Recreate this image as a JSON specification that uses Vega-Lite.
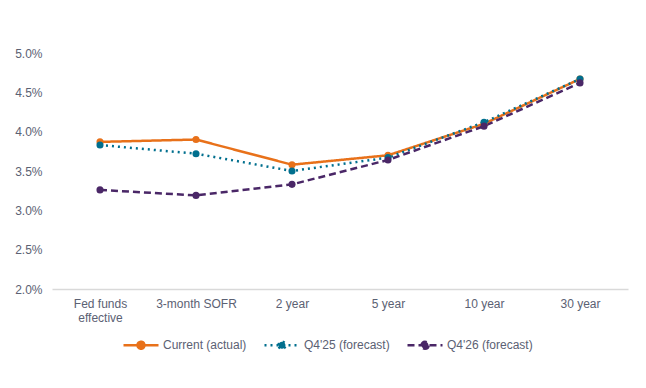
{
  "$schema": "https://vega.github.io/schema/vega-lite/v6.json",
  "width": 576,
  "height": 236,
  "autosize": {"type": "none"},
  "padding": {"left": 52, "top": 53, "right": 18, "bottom": 99},
  "background": "white",
  "config": {
    "view": {"stroke": null},
    "font": "Liberation Sans"
  },
  "data": {
    "values": [
      {"tenor": "Fed funds effective", "series": "Current (actual)", "rate": 3.87},
      {"tenor": "3-month SOFR", "series": "Current (actual)", "rate": 3.90},
      {"tenor": "2 year", "series": "Current (actual)", "rate": 3.58},
      {"tenor": "5 year", "series": "Current (actual)", "rate": 3.70},
      {"tenor": "10 year", "series": "Current (actual)", "rate": 4.10},
      {"tenor": "30 year", "series": "Current (actual)", "rate": 4.67},
      {"tenor": "Fed funds effective", "series": "Q4'25 (forecast)", "rate": 3.83},
      {"tenor": "3-month SOFR", "series": "Q4'25 (forecast)", "rate": 3.72},
      {"tenor": "2 year", "series": "Q4'25 (forecast)", "rate": 3.50},
      {"tenor": "5 year", "series": "Q4'25 (forecast)", "rate": 3.67},
      {"tenor": "10 year", "series": "Q4'25 (forecast)", "rate": 4.12},
      {"tenor": "30 year", "series": "Q4'25 (forecast)", "rate": 4.67},
      {"tenor": "Fed funds effective", "series": "Q4'26 (forecast)", "rate": 3.26},
      {"tenor": "3-month SOFR", "series": "Q4'26 (forecast)", "rate": 3.19},
      {"tenor": "2 year", "series": "Q4'26 (forecast)", "rate": 3.33},
      {"tenor": "5 year", "series": "Q4'26 (forecast)", "rate": 3.64},
      {"tenor": "10 year", "series": "Q4'26 (forecast)", "rate": 4.07},
      {"tenor": "30 year", "series": "Q4'26 (forecast)", "rate": 4.62}
    ]
  },
  "mark": {"type": "line", "strokeWidth": 2.5, "point": {"size": 50, "filled": true}},
  "encoding": {
    "x": {
      "field": "tenor",
      "type": "nominal",
      "sort": null,
      "title": null,
      "scale": {"paddingInner": 0, "paddingOuter": 0.5},
      "axis": {
        "labelAngle": 0,
        "ticks": false,
        "grid": false,
        "domainColor": "#d9d9d9",
        "domainWidth": 1.5,
        "labelColor": "#5b6173",
        "labelFontSize": 12,
        "labelPadding": 9,
        "labelLineHeight": 14,
        "labelExpr": "datum.label == 'Fed funds effective' ? ['Fed funds', 'effective'] : datum.label"
      }
    },
    "y": {
      "field": "rate",
      "type": "quantitative",
      "title": null,
      "scale": {"domain": [2, 5], "nice": false, "zero": false},
      "axis": {
        "values": [2, 2.5, 3, 3.5, 4, 4.5, 5],
        "grid": false,
        "domain": false,
        "ticks": false,
        "labelColor": "#5b6173",
        "labelFontSize": 12,
        "labelPadding": 10,
        "labelExpr": "format(datum.value, '.1f') + '%'"
      }
    },
    "color": {
      "field": "series",
      "type": "nominal",
      "sort": null,
      "scale": {
        "domain": ["Current (actual)", "Q4'25 (forecast)", "Q4'26 (forecast)"],
        "range": ["#e8711a", "#006f8e", "#4a2767"]
      },
      "legend": {
        "title": null,
        "orient": "none",
        "direction": "horizontal",
        "legendX": 70,
        "legendY": 273,
        "symbolType": "M-1,0H1M-0.2,0A0.2,0.2 0 1 1 0.2,0A0.2,0.2 0 1 1 -0.2,0Z",
        "symbolSize": 1225,
        "symbolStrokeWidth": 2.5,
        "labelColor": "#5b6173",
        "labelFontSize": 12,
        "columnPadding": 12,
        "labelOffset": 3,
        "encode": {
          "symbols": {
            "update": {
              "fill": {"scale": "color", "field": "value"}
            }
          }
        }
      }
    },
    "strokeDash": {
      "field": "series",
      "type": "nominal",
      "sort": null,
      "scale": {
        "domain": ["Current (actual)", "Q4'25 (forecast)", "Q4'26 (forecast)"],
        "range": [[1, 0], [2, 4], [7, 4]]
      },
      "legend": null
    }
  }
}
